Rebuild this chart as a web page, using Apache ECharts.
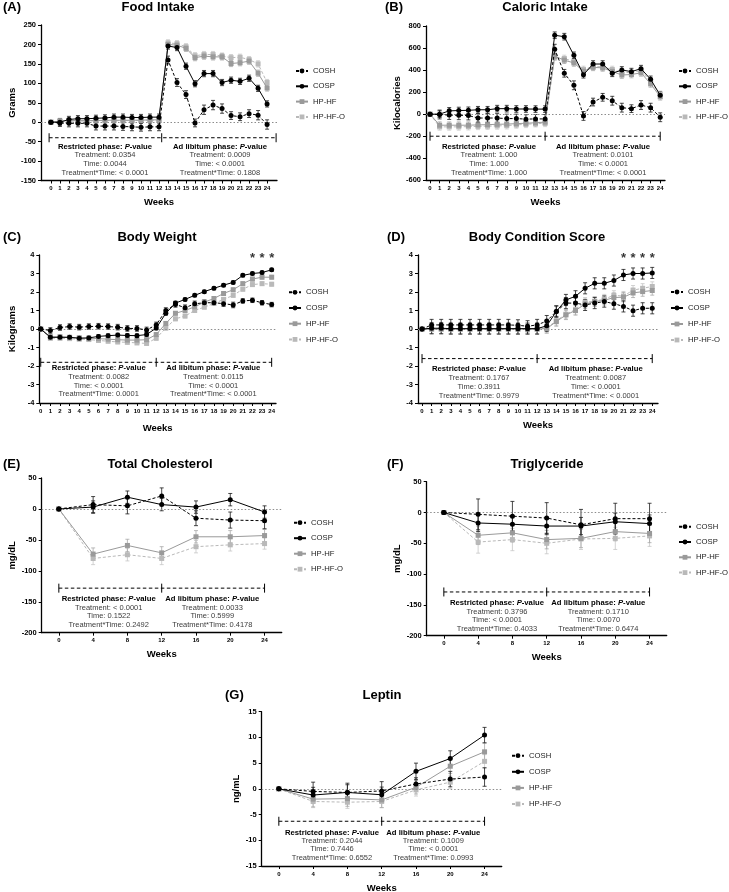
<!DOCTYPE html>
<html><head><meta charset="utf-8">
<script src="https://cdn.jsdelivr.net/npm/echarts@6/dist/echarts.min.js"></script>
<style>html,body{margin:0;padding:0;background:#fff}#c{width:729px;height:892px}</style>
</head><body><div id="c"></div>
<script>
// ---------- DATA ----------
const groups = ['COSH', 'COSP', 'HP-HF', 'HP-HF-O'];
const weeksAll = [0,1,2,3,4,5,6,7,8,9,10,11,12,13,14,15,16,17,18,19,20,21,22,23,24];
const weeks4 = [0,4,8,12,16,20,24];

// (A) Food intake, grams
const foodCOSH = [0,-2,-3,-3,-3,-10,-10,-10,-11,-12,-13,-12,-12,160,102,71,-2,32,44,35,17,14,22,18,-6];
const foodCOSP = [0,0,7,9,9,10,11,13,13,12,12,13,13,196,192,144,99,125,125,102,108,105,113,87,47];
const foodHPHF = [0,3,4,4,4,4,5,5,5,5,5,6,6,200,198,190,166,170,168,168,151,153,157,126,88];
const foodHPHFO = [0,2,3,3,3,4,4,4,4,4,5,5,5,204,202,194,171,174,174,170,166,167,161,150,102];
const foodCOSH_se = [0,9,9,9,9,10,10,10,10,10,10,10,10,10,10,10,10,12,12,12,10,10,10,12,12];
const foodCOSP_se = [0,8,8,8,8,8,8,8,8,8,8,8,8,8,8,8,8,8,8,8,8,8,8,8,8];
const foodHPHF_se = [0,7,7,7,7,7,7,7,7,7,7,7,7,8,8,8,8,8,8,8,8,8,8,8,8];
const foodHPHFO_se = [0,7,7,7,7,7,7,7,7,7,7,7,7,8,8,8,8,8,8,8,8,8,8,8,8];

// (B) Caloric intake, kcal
const calCOSH = [0,-3,-8,-10,-12,-35,-35,-35,-40,-40,-45,-43,-43,589,371,262,-16,110,153,122,59,50,83,59,-28];
const calCOSP = [0,0,30,33,35,40,40,50,50,47,47,46,46,716,703,534,358,455,455,371,401,386,413,316,172];
const calHPHF = [0,-100,-100,-100,-100,-97,-95,-92,-90,-86,-82,-78,-72,525,490,465,390,425,420,388,355,360,375,275,158];
const calHPHFO = [0,-115,-115,-115,-113,-110,-108,-106,-104,-97,-92,-86,-83,518,505,478,405,432,430,405,378,378,395,295,180];
const calCOSH_se = [0,40,40,40,40,40,40,40,40,40,40,40,40,45,35,40,40,35,35,40,40,35,40,40,40];
const calCOSP_se = [0,30,30,30,30,30,30,30,30,30,30,30,30,30,30,30,30,30,30,30,30,30,30,30,30];
const calHPHF_se = [0,30,30,30,30,30,30,30,30,30,30,30,30,30,30,30,30,30,30,30,30,30,30,30,30];
const calHPHFO_se = [0,30,30,30,30,30,30,30,30,30,30,30,30,30,30,30,30,30,30,30,30,30,30,30,30];

// (C) Body weight, kg
const bwCOSH = [0,-0.08,0.08,0.13,0.1,0.13,0.15,0.13,0.1,0.03,0.03,-0.05,0.22,1.0,1.33,1.15,1.36,1.42,1.42,1.37,1.3,1.52,1.55,1.42,1.32];
const bwCOSP = [0,-0.45,-0.45,-0.45,-0.5,-0.48,-0.4,-0.36,-0.33,-0.35,-0.36,-0.3,0.05,0.85,1.4,1.6,1.82,2.02,2.2,2.37,2.52,2.9,3.0,3.05,3.2];
const bwHPHF = [0,-0.42,-0.42,-0.45,-0.48,-0.5,-0.52,-0.55,-0.58,-0.6,-0.6,-0.58,-0.3,0.3,0.85,1.0,1.2,1.45,1.65,1.92,2.12,2.45,2.7,2.8,2.8];
const bwHPHFO = [0,-0.5,-0.5,-0.52,-0.55,-0.57,-0.62,-0.66,-0.7,-0.72,-0.75,-0.78,-0.5,0.05,0.55,0.7,1.0,1.18,1.38,1.6,1.82,2.15,2.4,2.45,2.42];
const bwCOSH_se = [0,0.15,0.15,0.15,0.15,0.15,0.15,0.15,0.15,0.15,0.15,0.15,0.15,0.15,0.15,0.15,0.15,0.15,0.15,0.15,0.15,0.12,0.12,0.12,0.12];
const bwCOSP_se = [0,0.1,0.1,0.1,0.1,0.1,0.1,0.1,0.1,0.1,0.1,0.1,0.1,0.1,0.1,0.08,0.08,0.08,0.08,0.08,0.08,0.08,0.08,0.08,0.08];
const bwHPHF_se = [0,0.1,0.1,0.1,0.1,0.1,0.1,0.1,0.1,0.1,0.1,0.1,0.1,0.1,0.1,0.1,0.1,0.1,0.1,0.1,0.1,0.1,0.1,0.1,0.1];
const bwHPHFO_se = [0,0.1,0.1,0.1,0.1,0.1,0.1,0.1,0.1,0.1,0.1,0.1,0.1,0.1,0.1,0.1,0.1,0.1,0.1,0.1,0.1,0.1,0.1,0.1,0.1];
const bwStarWeeks = [22,23,24];
const bwStarLevel = 3.8;

// (D) Body condition score
const bcsCOSH = [0,0.22,0.22,0.22,0.22,0.22,0.22,0.22,0.22,0.22,0.2,0.15,0.22,0.43,0.95,1.4,1.4,1.3,1.4,1.48,1.37,1.22,0.99,1.12,1.12];
const bcsCOSP = [0,0.04,0.04,0.02,0.02,0.02,0.02,0.02,0.02,0.02,0.02,0.02,0.02,0.17,0.95,1.57,1.77,2.2,2.47,2.47,2.62,2.92,3.0,3.0,3.03];
const bcsHPHF = [0,0,0,0,0,0,0,0,0,0,0,0,0,0.02,0.4,0.76,1.0,1.35,1.48,1.55,1.7,1.72,1.95,2.02,2.08];
const bcsHPHFO = [0,0,0,0,0,0,0,0,0,0,0,0,0,0.05,0.45,0.8,1.05,1.45,1.5,1.62,1.82,1.78,2.1,2.2,2.3];
const bcsCOSH_se = [0,0.3,0.3,0.3,0.3,0.3,0.3,0.3,0.3,0.3,0.3,0.3,0.3,0.3,0.3,0.3,0.3,0.3,0.3,0.3,0.3,0.3,0.3,0.3,0.3];
const bcsCOSP_se = [0,0.3,0.3,0.3,0.3,0.3,0.3,0.3,0.3,0.3,0.3,0.3,0.3,0.3,0.3,0.3,0.3,0.3,0.3,0.3,0.3,0.3,0.3,0.3,0.3];
const bcsHPHF_se = [0,0.25,0.25,0.25,0.25,0.25,0.25,0.25,0.25,0.25,0.25,0.25,0.25,0.25,0.25,0.25,0.25,0.25,0.25,0.25,0.25,0.25,0.25,0.25,0.25];
const bcsHPHFO_se = [0,0.25,0.25,0.25,0.25,0.25,0.25,0.25,0.25,0.25,0.25,0.25,0.25,0.25,0.25,0.25,0.25,0.25,0.25,0.25,0.25,0.25,0.25,0.25,0.25];
const bcsStarWeeks = [21,22,23,24];
const bcsStarLevel = 3.8;

// (E) Total cholesterol, mg/dL
const tcCOSH = [0,7,5,21,-15,-18,-19];
const tcCOSP = [0,3,19,7,3,15,-5];
const tcHPHF = [0,-73,-59,-71,-45,-45,-43];
const tcHPHFO = [0,-80,-74,-80,-61,-58,-56];
const tcCOSH_se = [0,13,13,13,12,13,13];
const tcCOSP_se = [0,10,10,10,10,10,10];
const tcHPHF_se = [0,10,10,10,10,10,10];
const tcHPHFO_se = [0,10,10,10,10,10,9];

// (F) Triglyceride, mg/dL
const tgCOSH = [0,-3,-6,-9,-20,-10,-10];
const tgCOSP = [0,-17,-19,-22,-22,-15,-18];
const tgHPHF = [0,-37,-33,-44,-42,-31,-34];
const tgHPHFO = [0,-48,-44,-50,-43,-42,-38];
const tgCOSH_se = [0,25,24,25,25,25,25];
const tgCOSP_se = [0,14,14,14,14,14,14];
const tgHPHF_se = [0,15,15,15,15,15,15];
const tgHPHFO_se = [0,18,18,17,17,18,17];

// (G) Leptin, ng/mL
const lepCOSH = [0,-0.5,-0.7,-0.4,0.95,1.9,2.3];
const lepCOSP = [0,-1.2,-0.7,-1.15,3.4,5.9,10.45];
const lepHPHF = [0,-2.0,-1.9,-2.15,0.3,4.4,7.2];
const lepHPHFO = [0,-2.45,-2.6,-2.45,-0.2,1.3,5.35];
const lepCOSH_se = [0,1.8,1.8,1.8,1.2,1.5,1.8];
const lepCOSP_se = [0,1.5,1.5,1.5,1.6,1.5,1.5];
const lepHPHF_se = [0,1.5,1.5,1.5,1.3,1.4,1.7];
const lepHPHFO_se = [0,1.2,1.2,1.2,1.2,1.2,1.3];

// P-value annotation texts
const pvA = [['Treatment: 0.0354','Time: 0.0044','Treatment*Time: < 0.0001'],['Treatment: 0.0009','Time: < 0.0001','Treatment*Time: 0.1808']];
const pvB = [['Treatment: 1.000','Time: 1.000','Treatment*Time: 1.000'],['Treatment: 0.0101','Time: < 0.0001','Treatment*Time: < 0.0001']];
const pvC = [['Treatment: 0.0082','Time: < 0.0001','Treatment*Time: 0.0001'],['Treatment: 0.0115','Time: < 0.0001','Treatment*Time: < 0.0001']];
const pvD = [['Treatment: 0.1767','Time: 0.3911','Treatment*Time: 0.9979'],['Treatment: 0.0087','Time: < 0.0001','Treatment*Time: < 0.0001']];
const pvE = [['Treatment: < 0.0001','Time: 0.1522','Treatment*Time: 0.2492'],['Treatment: 0.0033','Time: 0.5999','Treatment*Time: 0.4178']];
const pvF = [['Treatment: 0.3796','Time: < 0.0001','Treatment*Time: 0.4033'],['Treatment: 0.1710','Time: 0.0070','Treatment*Time: 0.6474']];
const pvG = [['Treatment: 0.2044','Time: 0.7446','Treatment*Time: 0.6552'],['Treatment: 0.1009','Time: < 0.0001','Treatment*Time: 0.0993']];

// ---------- LAYOUT / STYLE ----------
const FONT = '"Liberation Sans", Arial, Helvetica, sans-serif';
const gStyle = {
  'COSH':    {color:'#000000', err:'#1a1a1a', dash:[3,2], symbol:'circle'},
  'COSP':    {color:'#000000', err:'#1a1a1a', dash:'solid', symbol:'circle'},
  'HP-HF':   {color:'#9a9a9a', err:'#a8a8a8', dash:'solid', symbol:'rect'},
  'HP-HF-O': {color:'#b9b9b9', err:'#c6c6c6', dash:[3,2], symbol:'rect'}
};
const panels = [
  {letter:'(A)', title:'Food Intake', lx:3, tx:158, ty:7,
   grid:{left:41, top:25, width:236, height:155.5}, xr:[-1.1,25.1], yr:[-150,250,50], xw:weeksAll,
   vals:[foodCOSH,foodCOSP,foodHPHF,foodHPHFO], ses:[foodCOSH_se,foodCOSP_se,foodHPHF_se,foodHPHFO_se],
   yname:'Grams', ygap:23, xgap:17, phase:[-0.2,12.3,25,-40], pv:pvA, px:[105,220], py:[146.7,155.3,164.3,173.3],
   leg:{left:295, top:66.5, gap:6.3}},
  {letter:'(B)', title:'Caloric Intake', lx:385, tx:545, ty:7,
   grid:{left:426, top:26, width:239, height:154.3}, xr:[-0.42,24.5], yr:[-600,800,200], xw:weeksAll,
   vals:[calCOSH,calCOSP,calHPHF,calHPHFO], ses:[calCOSH_se,calCOSP_se,calHPHF_se,calHPHFO_se],
   yname:'Kilocalories', ygap:24, xgap:17, phase:[0,12,24,-200], pv:pvB, px:[489,603], py:[146.7,155.3,164.3,173.3],
   leg:{left:678, top:66.5, gap:6.3}},
  {letter:'(C)', title:'Body Weight', lx:3, tx:157, ty:237,
   grid:{left:39.3, top:255, width:236.7, height:148}, xr:[-0.15,24.45], yr:[-4,4,1], xw:weeksAll,
   vals:[bwCOSH,bwCOSP,bwHPHF,bwHPHFO], ses:[bwCOSH_se,bwCOSP_se,bwHPHF_se,bwHPHFO_se],
   yname:'Kilograms', ygap:21.5, xgap:20.5, phase:[0,12,24,-1.8], pv:pvC, px:[98.7,213.3], py:[368.3,376.7,385.7,394.3],
   leg:{left:288, top:287.8, gap:6.7}, stars:bwStarWeeks, starY:bwStarLevel},
  {letter:'(D)', title:'Body Condition Score', lx:387, tx:537, ty:237,
   grid:{left:418, top:255, width:240, height:148}, xr:[-0.42,24.6], yr:[-4,4,1], xw:weeksAll,
   vals:[bcsCOSH,bcsCOSP,bcsHPHF,bcsHPHFO], ses:[bcsCOSH_se,bcsCOSP_se,bcsHPHF_se,bcsHPHFO_se],
   yname:'', ygap:20, xgap:17.5, phase:[0,12,24,-1.6], pv:pvD, px:[479,595.7], py:[369.3,378.3,386.7,395.7],
   leg:{left:670, top:287.5, gap:7}, stars:bcsStarWeeks, starY:bcsStarLevel},
  {letter:'(E)', title:'Total Cholesterol', lx:3, tx:160, ty:464,
   grid:{left:41.7, top:478, width:240, height:154.7}, xr:[-2,26], yr:[-200,50,50], xw:weeks4,
   vals:[tcCOSH,tcCOSP,tcHPHF,tcHPHFO], ses:[tcCOSH_se,tcCOSP_se,tcHPHF_se,tcHPHFO_se],
   yname:'mg/dL', ygap:24, xgap:17, phase:[0,12,24,-128], pv:pvE, px:[108.7,212.3], py:[599.3,607.7,616,625],
   leg:{left:293, top:518.2, gap:6.5}},
  {letter:'(F)', title:'Triglyceride', lx:387, tx:547, ty:464,
   grid:{left:426.7, top:481.7, width:240, height:154}, xr:[-2,26], yr:[-200,50,50], xw:weeks4,
   vals:[tgCOSH,tgCOSP,tgHPHF,tgHPHFO], ses:[tgCOSH_se,tgCOSP_se,tgHPHF_se,tgHPHFO_se],
   yname:'mg/dL', ygap:24, xgap:16.5, phase:[0,12,24,-129], pv:pvF, px:[497,598.3], py:[603.3,611.7,620,629],
   leg:{left:678, top:522.2, gap:6.3}},
  {letter:'(G)', title:'Leptin', lx:225, tx:382, ty:695,
   grid:{left:261.7, top:711.7, width:240, height:154.3}, xr:[-2,26], yr:[-15,15,5], xw:weeks4,
   vals:[lepCOSH,lepCOSP,lepHPHF,lepHPHFO], ses:[lepCOSH_se,lepCOSP_se,lepHPHF_se,lepHPHFO_se],
   yname:'ng/mL', ygap:20, xgap:17.5, phase:[0,12,24,-6.3], pv:pvG, px:[332,433.3], py:[832.7,841,849.3,858.3],
   leg:{left:511, top:751.2, gap:7.1}}
];

// ---------- BUILD ----------
const grids = [], xAxes = [], yAxes = [], series = [], legends = [], graphics = [];
const drawOrder = [3, 2, 0, 1]; // gray first, black on top

panels.forEach((p, i) => {
  grids.push(Object.assign({containLabel:false, outerBoundsMode:'none'}, p.grid));
  xAxes.push({
    type:'value', gridIndex:i, min:p.xr[0], max:p.xr[1],
    axisLine:{show:true, onZero:false, lineStyle:{color:'#000', width:1.3}},
    axisTick:{show:true, customValues:p.xw, length:3, lineStyle:{color:'#000', width:1}},
    axisLabel:{show:true, customValues:p.xw, fontSize:6, fontWeight:'bold', color:'#000', margin:5, fontFamily:FONT},
    splitLine:{show:false},
    name:'Weeks', nameLocation:'middle', nameGap:p.xgap,
    nameTextStyle:{fontSize:9.5, fontWeight:'bold', color:'#000', fontFamily:FONT}
  });
  yAxes.push({
    type:'value', gridIndex:i, min:p.yr[0], max:p.yr[1], interval:p.yr[2],
    axisLine:{show:true, onZero:false, lineStyle:{color:'#000', width:1.3}},
    axisTick:{show:true, length:3, lineStyle:{color:'#000', width:1}},
    axisLabel:{fontSize:7.5, fontWeight:'bold', color:'#000', margin:5, fontFamily:FONT},
    splitLine:{show:false},
    name:p.yname, nameLocation:'middle', nameGap:p.ygap,
    nameTextStyle:{fontSize:9.5, fontWeight:'bold', color:'#000', fontFamily:FONT}
  });

  // phase bracket (dashed line with ticks)
  series.push({
    type:'custom', xAxisIndex:i, yAxisIndex:i, silent:true, z:1, animation:false,
    data:[[p.phase[0], p.phase[3], p.phase[1], p.phase[2]]],
    renderItem:function(params, api){
      const y = api.value(1);
      const a = api.coord([api.value(0), y]), m = api.coord([api.value(2), y]), e = api.coord([api.value(3), y]);
      const st = {stroke:'#000', lineWidth:1};
      const h = 4.5;
      return {type:'group', children:[
        {type:'line', shape:{x1:a[0], y1:a[1], x2:e[0], y2:e[1]}, style:{stroke:'#000', lineWidth:1, lineDash:[3.5,2.5]}},
        {type:'line', shape:{x1:a[0], y1:a[1]-h, x2:a[0], y2:a[1]+h}, style:st},
        {type:'line', shape:{x1:m[0], y1:m[1]-h, x2:m[0], y2:m[1]+h}, style:st},
        {type:'line', shape:{x1:e[0], y1:e[1]-h, x2:e[0], y2:e[1]+h}, style:st}
      ]};
    }
  });

  drawOrder.forEach((gi, n) => {
    const g = groups[gi], st = gStyle[g], ys = p.vals[gi], es = p.ses[gi];
    // error bars
    series.push({
      type:'custom', name:g + ' SEM', xAxisIndex:i, yAxisIndex:i, silent:true, z:2, animation:false,
      data:p.xw.map((x, k) => [x, ys[k], es[k]]),
      renderItem:function(params, api){
        const e = api.value(2);
        if (!e) return null;
        const x = api.value(0), y = api.value(1);
        const t = api.coord([x, y + e]), b = api.coord([x, y - e]);
        const w = 2;
        const s = {stroke:st.err, lineWidth:0.8};
        return {type:'group', children:[
          {type:'line', shape:{x1:t[0], y1:t[1], x2:b[0], y2:b[1]}, style:s},
          {type:'line', shape:{x1:t[0]-w, y1:t[1], x2:t[0]+w, y2:t[1]}, style:s},
          {type:'line', shape:{x1:b[0]-w, y1:b[1], x2:b[0]+w, y2:b[1]}, style:s}
        ]};
      }
    });
    const line = {
      type:'line', name:g, xAxisIndex:i, yAxisIndex:i, animation:false, z:3 + n,
      data:p.xw.map((x, k) => [x, ys[k]]),
      symbol:st.symbol, symbolSize:5, showSymbol:true,
      lineStyle:{color:st.color, width:1, type:st.dash},
      itemStyle:{color:st.color}
    };
    if (n === 0) {
      line.markLine = {silent:true, symbol:'none', animation:false, label:{show:false},
        lineStyle:{type:[1.5,2], color:'#8c8c8c', width:1}, data:[{yAxis:0}]};
    }
    series.push(line);
  });

  if (p.stars) {
    series.push({
      type:'scatter', xAxisIndex:i, yAxisIndex:i, silent:true, animation:false, z:10,
      symbolSize:1, itemStyle:{color:'rgba(0,0,0,0)'},
      data:p.stars.map(w => [w, p.starY]),
      label:{show:true, formatter:'*', position:'inside', fontSize:13, fontWeight:'bold', color:'#000', fontFamily:FONT}
    });
  }

  legends.push({
    data:groups, orient:'vertical', left:p.leg.left, top:p.leg.top, itemGap:p.leg.gap,
    itemWidth:12, itemHeight:6, padding:0, selectedMode:false,
    textStyle:{fontSize:7.7, color:'#222', fontFamily:FONT, lineHeight:9}
  });

  graphics.push({type:'text', silent:true, style:{text:p.letter, x:p.lx, y:p.ty, fontSize:13, fontWeight:'bold', fontFamily:FONT, fill:'#000', align:'left', verticalAlign:'middle'}});
  graphics.push({type:'text', silent:true, style:{text:p.title, x:p.tx, y:p.ty, fontSize:13, fontWeight:'bold', fontFamily:FONT, fill:'#000', align:'center', verticalAlign:'middle'}});

  const heads = ['Restricted phase: ', 'Ad libitum phase: '];
  [0, 1].forEach(side => {
    graphics.push({type:'text', silent:true, style:{
      text:'{b|' + heads[side] + '}{i|P}{b|-value}', x:p.px[side], y:p.py[0], align:'center', verticalAlign:'middle',
      rich:{b:{fontSize:7.7, fontWeight:'bold', fontFamily:FONT, fill:'#000'}, i:{fontSize:7.7, fontWeight:'bold', fontStyle:'italic', fontFamily:FONT, fill:'#000'}}
    }});
    p.pv[side].forEach((t, r) => {
      graphics.push({type:'text', silent:true, style:{text:t, x:p.px[side], y:p.py[r+1], fontSize:7.5, fontFamily:FONT, fill:'#3c3c3c', align:'center', verticalAlign:'middle'}});
    });
  });
});

const chart = echarts.init(document.getElementById('c'), null, {renderer:'canvas', width:729, height:892});
chart.setOption({
  animation:false,
  backgroundColor:'#ffffff',
  textStyle:{fontFamily:FONT},
  grid:grids, xAxis:xAxes, yAxis:yAxes, legend:legends, series:series,
  graphic:{elements:graphics}
});
</script>
</body></html>
